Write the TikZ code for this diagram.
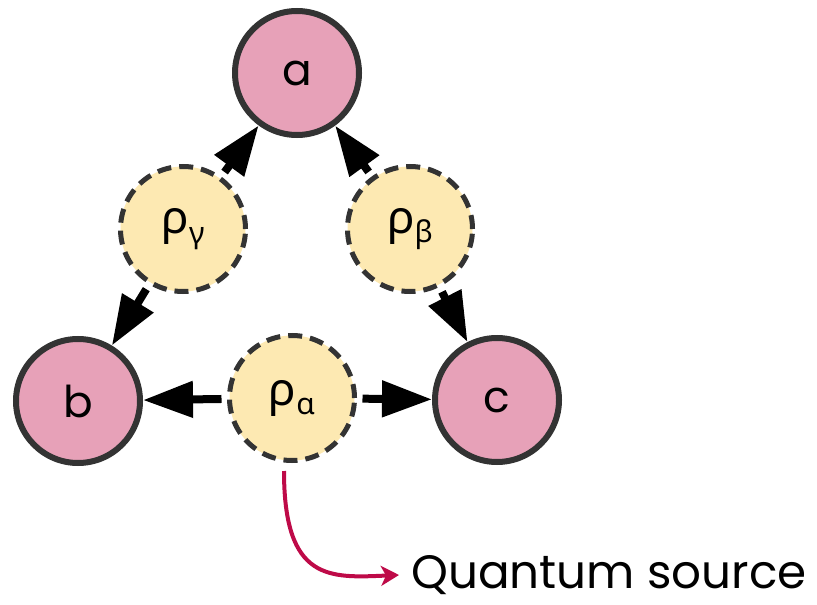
\documentclass[tikz,border=0pt]{standalone}
\usepackage{fontspec}
\setmainfont{Poppins}
\newfontfamily\grk{Noto Sans}
\usetikzlibrary{arrows.meta}

\definecolor{partypink}{HTML}{E7A1B8}
\definecolor{sourceyellow}{HTML}{FDE9B2}
\definecolor{rim}{HTML}{333333}
\definecolor{crimson}{HTML}{BE0A48}

\tikzset{
    party/.style={circle, draw=rim, line width=6bp, fill=partypink, minimum size=124bp, inner sep=0pt, font=\fontsize{44}{44}\selectfont},
    source/.style={circle, draw=rim, line width=5bp, dash pattern=on 14bp off 8bp, fill=sourceyellow, minimum size=125bp, inner sep=0pt, outer sep=8bp, font=\fontsize{46}{46}\selectfont\grk},
    share/.style={line width=8bp, -{Triangle[length=50bp,width=35bp]}},
}

\begin{document}
\begin{tikzpicture}[x=1bp, y=-1bp]
    \useasboundingbox (0,0) rectangle (817,605);

    \node[party] (a) at (297,73) {a};
    \node[party] (b) at (78,401) {b};
    \node[party] (c) at (497,400) {c};

    \node[source] (rg) at (183,229) {ρ\raisebox{-0.4ex}{\fontsize{30}{30}\selectfont γ}};
    \node[source] (rb) at (410,229) {ρ\raisebox{-0.4ex}{\fontsize{30}{30}\selectfont β}};
    \node[source] (ra) at (292,398) {ρ\raisebox{-0.4ex}{\fontsize{30}{30}\selectfont α}};

    \draw[share] (rg) -- (a);
    \draw[share] (rg) -- (b);
    \draw[share] (rb) -- (a);
    \draw[share] (rb) -- (c);
    \draw[share] (ra) -- (b);
    \draw[share] (ra) -- (c);

    % pointer to the label
    \coordinate (src) at (284,471);
    \node[anchor=west, inner sep=0pt, font=\fontsize{47}{47}\selectfont] (qs) at (411,575) {Quantum source};
    \draw[crimson, line width=4bp, -{Stealth[length=18bp,width=20bp,inset=5bp]}]
        (src) .. controls (284,582) and (330,578) .. ([xshift=-12bp]qs.west);
\end{tikzpicture}
\end{document}
